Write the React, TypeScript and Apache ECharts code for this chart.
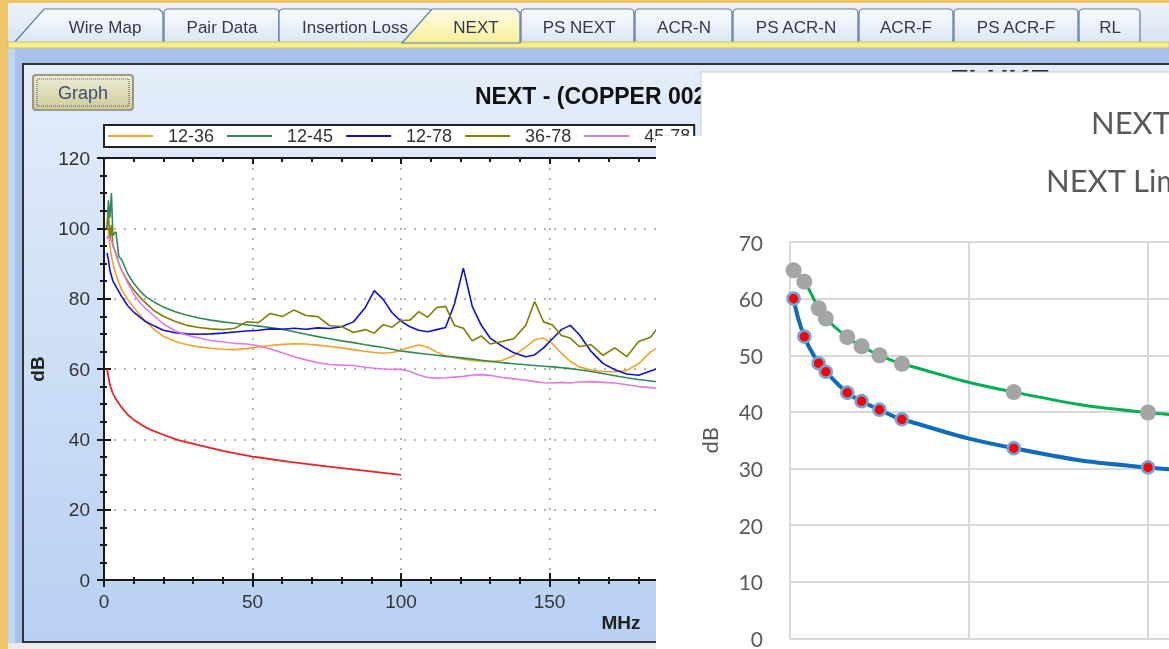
import React, { useEffect, useRef } from 'react';
import * as echarts from 'echarts';

// ---------- Fluke NEXT graph data (MHz / dB) ----------
const freq = [1, 1.5, 2, 2.5, 3, 4, 5, 6, 8, 10,
  12, 14, 17, 20, 24, 28, 32, 36, 40, 44,
  48, 52, 56, 60, 64, 68, 72, 76, 80, 84,
  88, 91, 94, 97, 100, 103, 106, 109, 112, 115,
  118, 121, 124, 127, 130, 134, 138, 142, 145, 148,
  151, 154, 157, 160, 164, 168, 172, 176, 180, 184,
  187];

const pair1236 = [101, 99, 95, 92, 90, 87, 84.5, 82.5, 79.8, 77.5,
  75.5, 73.5, 71.2, 69.3, 67.8, 66.9, 66.3, 65.9, 65.6, 65.5,
  65.8, 66.3, 66.7, 67.0, 67.2, 67.1, 66.8, 66.4, 66.0, 65.5,
  65.0, 64.7, 64.5, 64.7, 65.3, 66.2, 66.8, 66.2, 64.8, 63.8,
  63.2, 62.8, 62.4, 62.2, 62.1, 62.4, 63.8, 66.2, 68.3, 68.8,
  67.2, 64.5, 62.2, 60.6, 59.7, 59.3, 59.2, 59.6, 61.5, 64.8,
  66.5];

const pair1245 = [100, 108, 103, 110, 98, 99, 92, 91, 87, 84.4,
  82.3, 80.6, 79, 77.6, 76.3, 75.3, 74.5, 73.9, 73.4, 73.0,
  72.6, 72.2, 71.8, 71.3, 70.6, 69.9, 69.2, 68.6, 68.0, 67.5,
  66.9, 66.5, 66.1, 65.6, 65.1, 64.8, 64.5, 64.2, 63.9, 63.6,
  63.4, 63.1, 62.8, 62.5, 62.2, 61.8, 61.5, 61.2, 61.0, 60.8,
  60.6, 60.4, 60.1, 59.8, 59.3, 58.7, 58.1, 57.5, 57.0, 56.6,
  56.3];

const pair1278 = [93, 91, 88, 86.5, 85, 83.5, 82, 80.5, 78, 76.2,
  74.8, 73.5, 72.2, 71.0, 70.3, 70.0, 69.9, 70.0, 70.2, 70.5,
  70.8, 71.0, 71.4, 71.3, 71.6, 71.3, 71.7, 71.5, 72.0, 73.4,
  77.5, 82.3, 79.8, 76.0, 73.6, 72.0, 71.0, 70.6, 71.2, 71.8,
  78.5, 88.7, 77.8, 72.5, 68.8, 66.5, 64.6, 63.5, 64.0, 66.0,
  68.6, 71.2, 72.4, 69.8, 65.0, 61.6, 59.8, 58.6, 58.2, 59.4,
  60.3];

const pair3678 = [100, 104, 97, 101, 95, 93, 90, 88, 85, 82.5,
  80.5, 78.8, 76.5, 75.0, 73.5, 72.4, 71.8, 71.4, 71.2, 71.6,
  73.4, 73.2, 75.8, 74.9, 76.8, 75.2, 74.9, 72.3, 72.1, 70.4,
  71.2, 70.2, 72.6, 71.9, 73.8, 73.9, 76.3, 74.7, 77.5, 77.8,
  72.4, 71.6, 68.0, 69.4, 67.1, 67.8, 68.6, 72.4, 79.2, 73.4,
  72.5, 69.5, 68.8, 66.4, 66.9, 63.9, 66.0, 63.5, 67.8, 69.0,
  72.2];

const pair4578 = [97, 98, 97, 96.5, 95.5, 92.5, 90, 88, 84.5, 81.3,
  79.0, 77.2, 75.0, 72.8, 70.8, 69.6, 68.8, 68.1, 67.7, 67.3,
  67.1, 66.6, 65.7, 64.6, 63.5, 62.6, 61.8, 61.3, 61.1, 61.0,
  60.5, 60.2, 60.0, 59.9, 59.9, 59.3, 58.3, 57.6, 57.4, 57.5,
  57.7, 57.9, 58.3, 58.4, 58.2, 57.6, 57.2, 56.8, 56.4, 56.1,
  56.0, 56.2, 56.0, 56.3, 56.4, 56.2, 56.0, 55.5, 55.0, 54.7,
  54.4];

const limitFreq = [1, 2, 3, 4, 6, 8, 10, 13, 16, 20, 25, 31.25, 40, 50, 62.5, 75, 87.5, 100];
const limitNext = [60, 55.5, 53, 51.5, 49, 47, 45.6, 43.9, 42.6, 41.3, 39.8, 38.5, 36.7, 35.1, 33.6, 32.3, 31.1, 29.9];

const pairNames = ['12-36', '12-45', '12-78', '36-78', '45-78'];

// ---------- Excel overlay data ----------
const excelFreq = [1, 4, 8, 10, 16, 20, 25, 31.25, 62.5, 100, 200, 250];
const upperLimit = [65.0, 63.0, 58.3, 56.5, 53.2, 51.6, 50.0, 48.5, 43.5, 39.9, 34.8, 33.1];
const lowerLimit = [60.0, 53.3, 48.6, 47.1, 43.4, 41.9, 40.4, 38.7, 33.6, 30.2, 25.7, 24.2];

// ---------- UI labels ----------
const tabLabels = ['Wire Map', 'Pair Data', 'Insertion Loss', 'NEXT', 'PS NEXT', 'ACR-N', 'PS ACR-N', 'ACR-F', 'PS ACR-F', 'RL'];

const zip = (xs: number[], ys: number[]) => xs.map((x, i) => [x, ys[i]]);

const AR = 'Liberation Sans';
const LATO = 'Lato';

export default function App() {
  const ref = useRef<HTMLDivElement>(null);

  useEffect(() => {
    if (!ref.current) return;
    const chart = echarts.init(ref.current, undefined, { renderer: 'svg' });

    const tabEdges = [[14, 163], [164, 279], [279, 432], [402, 520], [521, 634], [635, 732], [733, 858], [859, 953], [954, 1078], [1079, 1140]];
    const tabCenters = [105, 222, 355, 476, 579, 684, 796, 906, 1016, 1110];

    const tabFill = () => new echarts.graphic.LinearGradient(0, 0, 0, 1, [
      { offset: 0, color: '#fbfcfe' }, { offset: 1, color: '#dbe5f3' }]);
    const activeFill = () => new echarts.graphic.LinearGradient(0, 0, 0, 1, [
      { offset: 0, color: '#fffbe6' }, { offset: 1, color: '#f7ef98' }]);

    const tabShapes: any[] = [];
    const tabTexts: any[] = [];
    const order = [0, 1, 2, 4, 5, 6, 7, 8, 9, 3];
    order.forEach((i) => {
      const [x0, x1] = tabEdges[i];
      const isFirst = i === 0;
      const isActive = i === 3;
      if (isFirst || isActive) {
        tabShapes.push({
          type: 'polygon', z: isActive ? 3 : 1,
          shape: { points: [[x0, 43], [x0 + 30, 9], [x1 - 4, 9], [x1, 13], [x1, 43]] },
          style: { fill: isActive ? activeFill() : tabFill(), stroke: '#5b79a4', lineWidth: 1.2 },
        });
      } else {
        tabShapes.push({
          type: 'rect', z: 1,
          shape: { x: x0, y: 9, width: x1 - x0, height: 34, r: [4, 4, 0, 0] },
          style: { fill: tabFill(), stroke: '#5b79a4', lineWidth: 1.2 },
        });
      }
      tabTexts.push({
        type: 'text', z: 4, x: tabCenters[i], y: 27,
        style: {
          text: tabLabels[i], fill: '#3a3550', fontSize: 17, fontFamily: AR,
          textAlign: 'center', textVerticalAlign: 'middle', align: 'center', verticalAlign: 'middle',
        },
      });
    });

    const graphic: any[] = [
      { type: 'rect', z: -10, shape: { x: 0, y: 0, width: 1169, height: 649 }, style: { fill: '#dfe8f4' } },
      { type: 'rect', z: -9, shape: { x: 8, y: 3, width: 1161, height: 40 },
        style: { fill: new echarts.graphic.LinearGradient(0, 0, 0, 1, [{ offset: 0, color: '#eef3fa' }, { offset: 1, color: '#d8e3f2' }]) } },
      { type: 'rect', z: -9, shape: { x: 0, y: 0, width: 1169, height: 3 }, style: { fill: '#f0c468' } },
      { type: 'rect', z: -9, shape: { x: 0, y: 0, width: 8, height: 649 }, style: { fill: '#f0c468' } },
      { type: 'rect', z: -9, shape: { x: 8, y: 48, width: 1161, height: 601 }, style: { fill: '#a6c2ea' } },
      { type: 'rect', z: -9, shape: { x: 8, y: 48, width: 7, height: 601 }, style: { fill: '#c3d6f1' } },
      { type: 'rect', z: 2, shape: { x: 8, y: 42, width: 1161, height: 6 }, style: { fill: '#f6f08c', stroke: '#c9c27a', lineWidth: 1 } },
      { type: 'rect', z: -8, shape: { x: 8, y: 643, width: 1161, height: 6 }, style: { fill: '#ebebeb' } },
      { type: 'rect', z: -7, shape: { x: 23, y: 64, width: 1160, height: 578 },
        style: { fill: new echarts.graphic.LinearGradient(0, 0, 0, 1, [{ offset: 0, color: '#e4edf9' }, { offset: 1, color: '#b8d0f3' }]), stroke: '#333333', lineWidth: 2 } },
      ...tabShapes,
      ...tabTexts,
      // Graph button
      { type: 'rect', z: 5, shape: { x: 33, y: 75, width: 100, height: 35, r: 3 },
        style: { fill: new echarts.graphic.LinearGradient(0, 0, 0, 1, [{ offset: 0, color: '#eeedd6' }, { offset: 1, color: '#cfca9c' }]), stroke: '#9a9a82', lineWidth: 2 } },
      { type: 'rect', z: 6, shape: { x: 37, y: 79, width: 92, height: 27 },
        style: { fill: 'none', stroke: '#555', lineWidth: 1, lineDash: [1, 1] } },
      { type: 'text', z: 7, x: 83, y: 93,
        style: { text: 'Graph', fill: '#3d5073', fontSize: 18, fontFamily: AR, textAlign: 'center', textVerticalAlign: 'middle', align: 'center', verticalAlign: 'middle' } },
      // Fluke title
      { type: 'text', z: 5, x: 475, y: 96,
        style: { text: 'NEXT - (COPPER 002)', fill: '#111', fontSize: 23, fontWeight: 'bold', fontFamily: AR, textAlign: 'left', textVerticalAlign: 'middle', align: 'left', verticalAlign: 'middle' } },
      { type: 'text', z: 5, x: 1000, y: 64,
        style: { text: 'FLUKE', fill: '#2a2a2a', fontSize: 30, fontWeight: 'bold', fontFamily: AR, textAlign: 'center', textVerticalAlign: 'top', align: 'center', verticalAlign: 'top' } },
      { type: 'text', z: 5, x: 621, y: 622,
        style: { text: 'MHz', fill: '#222', fontSize: 19, fontWeight: 'bold', fontFamily: AR, textAlign: 'center', textVerticalAlign: 'middle', align: 'center', verticalAlign: 'middle' } },
      // Excel overlay panels
      { type: 'rect', z: 100, shape: { x: 701, y: 72, width: 480, height: 590 }, style: { fill: '#ffffff', stroke: '#c9c9c9', lineWidth: 1 } },
      { type: 'rect', z: 100, shape: { x: 656, y: 136, width: 530, height: 530 }, style: { fill: '#ffffff' } },
      { type: 'text', z: 110, x: 1091, y: 122,
        style: { text: 'NEXT', fill: '#595959', fontSize: 31, fontFamily: LATO, textAlign: 'left', textVerticalAlign: 'middle', align: 'left', verticalAlign: 'middle' } },
      { type: 'text', z: 110, x: 1046, y: 180,
        style: { text: 'NEXT Limits', fill: '#595959', fontSize: 31, fontFamily: LATO, textAlign: 'left', textVerticalAlign: 'middle', align: 'left', verticalAlign: 'middle' } },
    ];

    const black = '#1a1a1a';
    const dotted = { show: true, lineStyle: { color: '#9c9c9c', type: [2, 8] as any, width: 1.5 } };

    const pairColors = ['#f4a226', '#2e8b57', '#1010d8', '#7f7f00', '#e07ae0'];
    const pairData = [pair1236, pair1245, pair1278, pair3678, pair4578];

    // Excel plot: 0 MHz at x=790, 100 MHz at x=1148 → visible span to the window edge
    const excelLeft = 790;
    const excelWidth = 1169 - excelLeft;
    const excelMax = (excelWidth / 358) * 100;

    const option: any = {
      animation: false,
      graphic: { elements: graphic },
      legend: {
        data: pairNames, left: 104, top: 125, padding: [2, 4], borderWidth: 2, borderColor: '#222',
        backgroundColor: '#ffffff', itemWidth: 45, itemHeight: 2, itemGap: 13, icon: 'rect',
        selectedMode: false, z: 4,
        textStyle: { fontSize: 18, fontFamily: AR, color: '#333', lineHeight: 18, padding: [0, 0, 0, 10] },
      },
      grid: [
        { left: 104, top: 158, width: 742.5, height: 422, show: true, backgroundColor: '#ffffff', borderWidth: 0 },
        { left: excelLeft, top: 242, width: excelWidth, height: 407, show: false },
      ],
      xAxis: [
        { gridIndex: 0, type: 'value', min: 0, max: 250, interval: 50, position: 'bottom',
          axisLine: { lineStyle: { color: black, width: 2 } },
          axisTick: { length: 7, lineStyle: { color: black, width: 2 } },
          minorTick: { show: true, splitNumber: 5, length: 4, lineStyle: { color: black, width: 2 } },
          axisLabel: { fontSize: 19, color: '#333', margin: 12, fontFamily: AR },
          splitLine: dotted },
        { gridIndex: 0, type: 'value', min: 0, max: 250, interval: 50, position: 'bottom',
          axisLine: { show: false },
          axisTick: { inside: true, length: 7, lineStyle: { color: black, width: 2 } },
          minorTick: { show: true, splitNumber: 5, length: 3, lineStyle: { color: black, width: 2 } },
          axisLabel: { show: false }, splitLine: { show: false } },
        { gridIndex: 0, type: 'value', min: 0, max: 250, interval: 50, position: 'top',
          axisLine: { lineStyle: { color: black, width: 2 } },
          axisTick: { inside: true, length: 6, lineStyle: { color: black, width: 2 } },
          minorTick: { show: true, splitNumber: 5, length: 4, lineStyle: { color: black, width: 2 } },
          axisLabel: { show: false }, splitLine: { show: false } },
        { gridIndex: 1, type: 'value', min: 0, max: excelMax, interval: 50, z: 110,
          axisLine: { show: false }, axisTick: { show: false }, axisLabel: { show: false },
          splitLine: { show: true, showMaxLine: false, lineStyle: { color: '#d9d9d9', width: 2 } } },
      ],
      yAxis: [
        { gridIndex: 0, type: 'value', min: 0, max: 120, interval: 20, position: 'left',
          axisLine: { show: true, lineStyle: { color: black, width: 2 } },
          axisTick: { show: true, length: 7, lineStyle: { color: black, width: 2 } },
          minorTick: { show: true, splitNumber: 4, length: 4, lineStyle: { color: black, width: 2 } },
          axisLabel: { fontSize: 19, color: '#333', margin: 14, fontFamily: AR },
          splitLine: dotted,
          name: 'dB', nameLocation: 'middle', nameRotate: 90, nameGap: 43,
          nameTextStyle: { fontSize: 19, fontWeight: 'bold', color: '#222', fontFamily: AR } },
        { gridIndex: 0, type: 'value', min: 0, max: 120, interval: 20, position: 'left',
          axisLine: { show: false },
          axisTick: { show: true, inside: true, length: 7, lineStyle: { color: black, width: 2 } },
          minorTick: { show: true, splitNumber: 4, length: 3, lineStyle: { color: black, width: 2 } },
          axisLabel: { show: false }, splitLine: { show: false } },
        { gridIndex: 1, type: 'value', min: 0, max: 70, interval: 10, z: 110,
          axisLine: { show: true, lineStyle: { color: '#d9d9d9', width: 2 } },
          axisTick: { show: false },
          axisLabel: { fontSize: 21, color: '#595959', margin: 27, fontFamily: LATO },
          splitLine: { show: true, lineStyle: { color: '#d9d9d9', width: 2 } },
          name: 'dB', nameLocation: 'middle', nameRotate: 90, nameGap: 70,
          nameTextStyle: { fontSize: 22, color: '#595959', fontFamily: LATO } },
      ],
      series: [
        ...pairNames.map((name, i) => ({
          name, type: 'line', xAxisIndex: 0, yAxisIndex: 0, showSymbol: false, symbol: 'none', z: 2,
          data: zip(freq, pairData[i]), color: pairColors[i],
          lineStyle: { color: pairColors[i], width: 1.6 },
        })),
        { name: 'Limit', type: 'line', xAxisIndex: 0, yAxisIndex: 0, showSymbol: false, symbol: 'none', z: 2,
          data: zip(limitFreq, limitNext), color: '#ee2222', lineStyle: { color: '#ee2222', width: 1.8 } },
        { name: 'Upper limit', type: 'line', xAxisIndex: 3, yAxisIndex: 2, z: 120, smooth: 0.5,
          data: zip(excelFreq, upperLimit), symbol: 'circle', symbolSize: 16, showSymbol: true,
          itemStyle: { color: '#a5a5a5' }, lineStyle: { color: '#00b050', width: 3 } },
        { name: 'Lower limit', type: 'line', xAxisIndex: 3, yAxisIndex: 2, z: 121, smooth: 0.5,
          data: zip(excelFreq, lowerLimit), symbol: 'circle', symbolSize: 12, showSymbol: true,
          itemStyle: { color: '#ff0000', borderColor: '#6fa6dc', borderWidth: 2.5 }, lineStyle: { color: '#0f6cbd', width: 4 } },
      ],
    };

    chart.setOption(option);
    return () => chart.dispose();
  }, []);

  return (
    <div style={{ position: 'fixed', left: 0, top: 0, width: 1169, height: 649, overflow: 'hidden' }}>
      <div ref={ref} style={{ width: 1169, height: 649 }} />
    </div>
  );
}
